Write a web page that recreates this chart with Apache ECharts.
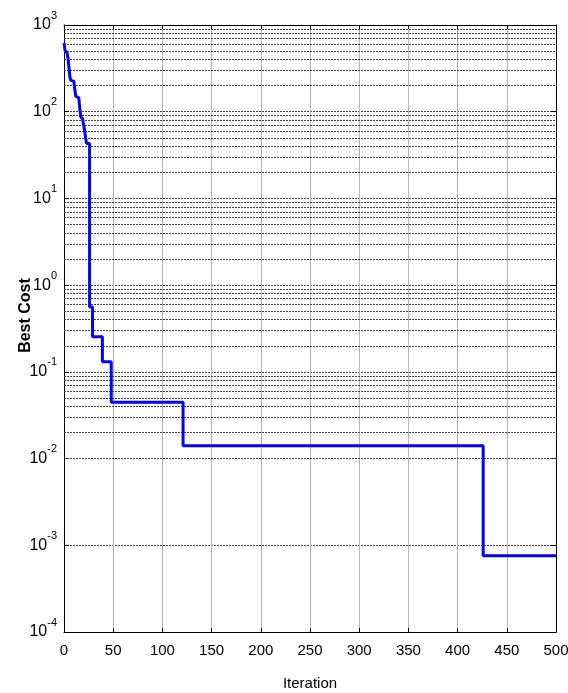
<!DOCTYPE html>
<html>
<head>
<meta charset="utf-8">
<script src="https://cdn.jsdelivr.net/npm/echarts@6/dist/echarts.min.js"></script>
<style>
html,body{margin:0;padding:0;background:#fff;}
#chart{width:568px;height:693px;}
</style>
</head>
<body>
<div id="chart"></div>
<script>
// Data
var iterations = [0, 1, 2, 3, 4, 5, 6, 7, 8, 10, 11, 12, 13, 15, 16, 17, 18, 19, 20, 21, 22, 23, 26, 29, 39, 48, 121, 426, 500];
var bestCost = [620, 510, 500, 480, 420, 330, 250, 230, 225, 215, 180, 150, 145, 140, 110, 88, 85, 82, 70, 60, 50, 43, 0.56, 0.254, 0.131, 0.0445, 0.01406, 0.000757, 0.000757];
var xTicks = [0, 50, 100, 150, 200, 250, 300, 350, 400, 450, 500];
var decades = [1e-4, 1e-3, 1e-2, 1e-1, 1, 10, 100, 1000];
var minorMultipliers = [2, 3, 4, 5, 6, 7, 8, 9];

var minorValues = [];
decades.slice(0, -1).forEach(function (d) {
  minorMultipliers.forEach(function (m) { minorValues.push(d * m); });
});

var FONT = "'Liberation Sans',Arial,sans-serif";
var chart = echarts.init(document.getElementById('chart'), null, {renderer: 'canvas'});

var option = {
  animation: false,
  backgroundColor: '#ffffff',
  grid: {left: 64, right: 12, top: 25, bottom: 61, containLabel: false, outerBoundsMode: 'none'},
  xAxis: [{
    type: 'value', min: xTicks[0], max: xTicks[xTicks.length - 1], interval: 50,
    position: 'bottom',
    name: 'Iteration', nameLocation: 'middle', nameGap: 44, nameMoveOverlap: false,
    nameTextStyle: {fontFamily: FONT, fontSize: 15, color: '#000'},
    axisLine: {show: true, onZero: false, lineStyle: {color: '#000', width: 1}},
    axisTick: {show: true, inside: true, length: 4, lineStyle: {color: '#000'}},
    axisLabel: {fontFamily: FONT, fontSize: 15, color: '#000', margin: 11},
    splitLine: {show: true, lineStyle: {color: '#b4b4b4', width: 1, type: 'solid'}}
  }, {
    type: 'value', min: xTicks[0], max: xTicks[xTicks.length - 1], interval: 50,
    position: 'top',
    axisLine: {show: true, onZero: false, lineStyle: {color: '#000', width: 1}},
    axisTick: {show: true, inside: true, length: 4, lineStyle: {color: '#000'}},
    axisLabel: {show: false},
    splitLine: {show: false}
  }],
  yAxis: [{
    type: 'log', logBase: 10, min: decades[0], max: decades[decades.length - 1], interval: 1,
    position: 'left',
    name: 'Best Cost', nameLocation: 'middle', nameGap: 30, nameMoveOverlap: false,
    nameTextStyle: {fontFamily: FONT, fontSize: 16, fontWeight: 'bold', color: '#000', padding: [0, 0, 0, 26]},
    axisLine: {show: true, onZero: false, lineStyle: {color: '#000', width: 1}},
    axisTick: {show: true, inside: true, length: 5, lineStyle: {color: '#000'}},
    axisLabel: {
      margin: 7,
      formatter: function (v) {
        var e = Math.round(Math.log(v) / Math.LN10);
        return '{b|10}{e|' + e + '}';
      },
      rich: {
        b: {fontFamily: FONT, fontSize: 16, color: '#000'},
        e: {fontFamily: FONT, fontSize: 11, color: '#000', padding: [0, 0, 19, 0]}
      }
    },
    splitLine: {show: true, lineStyle: {color: '#444', width: 1, type: [2, 1]}}
  }, {
    type: 'log', logBase: 10, min: decades[0], max: decades[decades.length - 1], interval: 1,
    position: 'right',
    axisLine: {show: true, onZero: false, lineStyle: {color: '#000', width: 1}},
    axisTick: {show: true, inside: true, length: 5, lineStyle: {color: '#000'}},
    axisLabel: {show: false},
    splitLine: {show: false}
  }],
  series: [{
    type: 'line',
    xAxisIndex: 0, yAxisIndex: 0,
    step: 'end',
    showSymbol: false,
    symbol: 'none',
    data: iterations.map(function (it, i) { return [it, bestCost[i]]; }),
    lineStyle: {color: '#0000ff', width: 3},
    z: 5,
    markLine: {
      silent: true,
      symbol: 'none',
      label: {show: false},
      lineStyle: {color: '#444', width: 1, type: [2, 1]},
      data: minorValues.map(function (v) { return {yAxis: v}; }),
      z: 1
    }
  }]
};
chart.setOption(option);
</script>
</body>
</html>
